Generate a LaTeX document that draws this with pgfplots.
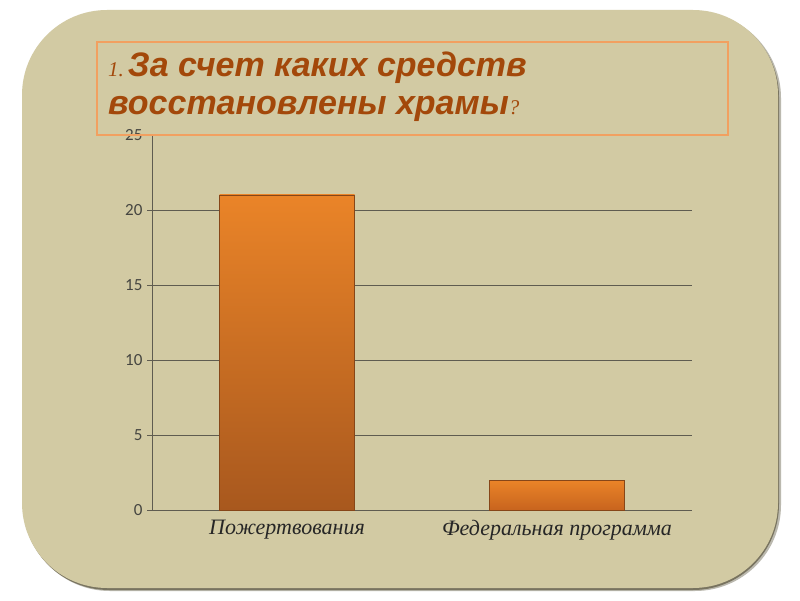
\documentclass[border=0pt]{standalone}
\usepackage{pgfplots}
\pgfplotsset{compat=1.18}
\usepackage{fontspec}
\setmainfont{Liberation Serif}
\newfontfamily\titlefont{Liberation Sans}
\newfontfamily\tickfont{Carlito}
\definecolor{bg}{RGB}{210,202,163}
\definecolor{shadowc}{RGB}{120,115,95}
\definecolor{titlec}{RGB}{163,72,10}
\definecolor{boxc}{RGB}{242,160,96}
\definecolor{gridc}{RGB}{95,92,80}
\definecolor{labc}{RGB}{70,70,65}
\definecolor{bartop}{RGB}{234,132,40}
\definecolor{barbot}{RGB}{168,88,30}
\definecolor{barbot2}{RGB}{200,100,30}
\begin{document}
\begin{tikzpicture}[x=1pt,y=1pt]
\fill[white] (0,0) rectangle (800,600);
\fill[shadowc!50, rounded corners=86pt] (24,9) rectangle (781,588);
\fill[shadowc, rounded corners=86pt] (23,10) rectangle (779,589);
\fill[bg, rounded corners=85pt] (22,12) rectangle (778,590);
\begin{axis}[
  at={(152pt,90pt)}, anchor=south west,
  scale only axis, width=540pt, height=375pt,
  xmin=-0.5, xmax=1.5, ymin=0, ymax=25,
  axis x line*=bottom, axis y line*=left,
  axis line style={gridc, line width=0.8pt},
  ytick={0,5,10,15,20,25},
  ymajorgrids, grid style={gridc, line width=0.8pt},
  xtick={0,1}, xticklabels={Пожертвования, Федеральная программа},
  major x tick style={draw=none},
  extra x ticks={-0.5,0.5,1.5}, extra x tick labels={},
  extra x tick style={grid=none, major tick length=5pt, tick style={gridc, line width=0.8pt}, xtick pos=bottom, tick align=outside},
  ytick style={gridc, line width=0.8pt}, tick align=outside, major tick length=5pt,
  ytick pos=left,
  /pgf/number format/assume math mode=true,
  yticklabel style={font=\tickfont\fontsize{17}{17}\selectfont, text=labc, xshift=-1pt},
  xticklabel style={font=\itshape\fontsize{22}{22}\selectfont, text=black!85, yshift=-2pt},
  clip=false,
]
\addplot[ybar, bar width=135pt, draw=barbot!80!black, line width=0.4pt,
  top color=bartop, bottom color=barbot] coordinates {(0,21)};
\addplot[ybar, bar width=135pt, draw=barbot!80!black, line width=0.4pt,
  top color=bartop, bottom color=barbot2] coordinates {(1,2)};
\end{axis}
\draw[boxc, line width=2.5pt] (97,465) rectangle (728,558);
\node[anchor=base west, inner sep=0pt, text=titlec] at (108,523)
  {{\itshape\fontsize{21}{21}\selectfont 1.}\hspace{4pt}{\titlefont\bfseries\itshape\fontsize{34}{34}\selectfont За счет каких средств}};
\node[anchor=base west, inner sep=0pt, text=titlec] at (108,485)
  {{\titlefont\bfseries\itshape\fontsize{34}{34}\selectfont восстановлены храмы}{\itshape\fontsize{21}{21}\selectfont ?}};
\end{tikzpicture}
\end{document}
